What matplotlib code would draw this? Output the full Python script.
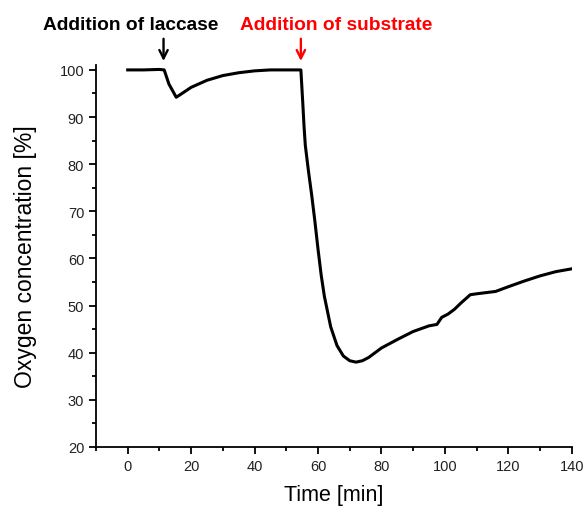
import matplotlib
matplotlib.use("Agg")
import matplotlib.pyplot as plt
from matplotlib.ticker import MultipleLocator

plt.rcParams["font.family"] = ["Liberation Sans", "DejaVu Sans"]

# oxygen trace
time_min = [0, 5, 10, 11.5, 13, 15.3, 16, 20, 25, 30, 35, 40, 45, 50, 54.6,
            55.2, 55.6, 56, 57, 58, 59, 60, 61, 62, 64, 66, 68, 70, 72, 74,
            76, 80, 85, 90, 95, 97.5, 99, 101, 103, 105, 108, 110, 116, 120,
            125, 130, 135, 140]
oxygen_pct = [100, 100, 100.1, 100, 97, 94.2, 94.5, 96.3, 97.8, 98.8,
              99.4, 99.8, 100, 100, 100, 93, 88, 84, 78.5, 73.5, 68, 62,
              56.5, 52, 45.5, 41.5, 39.3, 38.3, 38.0, 38.3, 39, 41, 42.8,
              44.5, 45.7, 46, 47.5, 48.2, 49.2, 50.5, 52.3, 52.5, 53, 54,
              55.2, 56.3, 57.2, 57.8]

laccase_t = 11.3
substrate_t = 54.6

fig = plt.figure(figsize=(5.87, 5.10), dpi=100)
ax = fig.add_axes([0.1635, 0.1216, 0.8105, 0.7486])

ax.plot(time_min, oxygen_pct, color="black", lw=2.2, solid_joinstyle="round")

ax.set_xlim(-10, 140)
ax.set_ylim(20, 101)
ax.xaxis.set_major_locator(MultipleLocator(20))
ax.xaxis.set_minor_locator(MultipleLocator(10))
ax.yaxis.set_major_locator(MultipleLocator(10))
ax.yaxis.set_minor_locator(MultipleLocator(5))
ax.set_xticks([0, 20, 40, 60, 80, 100, 120, 140])
ax.tick_params(which="major", length=5, width=1.3, labelsize=10.5,
               direction="out", labelcolor="#222222")
ax.tick_params(which="minor", length=3, width=1.3, direction="out")
for side in ("top", "right"):
    ax.spines[side].set_visible(False)
for side in ("left", "bottom"):
    ax.spines[side].set_linewidth(1.3)

ax.set_xlabel("Time [min]", fontsize=15.5, labelpad=8)
ax.set_ylabel("Oxygen concentration [%]", fontsize=16.5, labelpad=16)

# annotations above the axes
ax.annotate("", xy=(laccase_t, 101.3), xytext=(laccase_t, 107.2),
            annotation_clip=False,
            arrowprops=dict(arrowstyle="->", color="black", lw=1.7,
                            mutation_scale=15))
ax.annotate("", xy=(substrate_t, 101.3), xytext=(substrate_t, 107.2),
            annotation_clip=False,
            arrowprops=dict(arrowstyle="->", color="red", lw=1.7,
                            mutation_scale=15))
fig.text(131 / 587, 1 - 25 / 510, "Addition of laccase", ha="center",
         va="center", fontsize=13.8, fontweight="bold", color="black")
fig.text(336 / 587, 1 - 25 / 510, "Addition of substrate", ha="center",
         va="center", fontsize=13.8, fontweight="bold", color="red")

fig.savefig("out.png", dpi=100)
